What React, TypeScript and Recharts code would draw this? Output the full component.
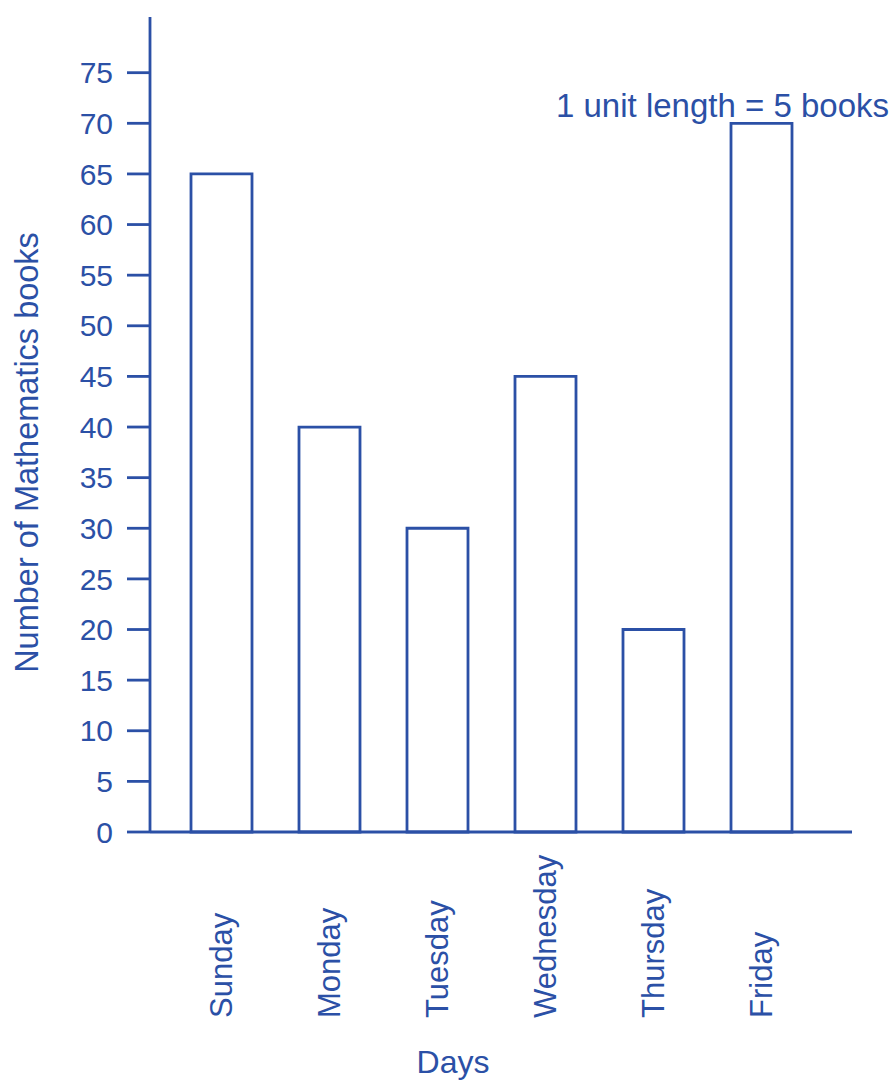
import React from "react";
import { BarChart, Bar, XAxis, YAxis, Label } from "recharts";

// days on the x axis and books sold (1 unit = 5 books)
const days = ["Sunday", "Monday", "Tuesday", "Wednesday", "Thursday", "Friday"];
const books = [65, 40, 30, 45, 20, 70];
const yTicks = [0, 5, 10, 15, 20, 25, 30, 35, 40, 45, 50, 55, 60, 65, 70, 75];

const data = days.map((d, i) => ({ day: d, books: books[i] }));

const BLUE = "#2b50a6";
const FONT = "'Liberation Sans', Arial, sans-serif";

// rotated day names, all starting at the same baseline below the axis
function DayTick(props: any) {
  const { x, y, payload } = props;
  const y0 = y + 178;
  return (
    <text
      x={x}
      y={y0}
      transform={`rotate(-90, ${x}, ${y0})`}
      textAnchor="start"
      dominantBaseline="central"
      fill={BLUE}
      fontSize={31}
      fontFamily={FONT}
    >
      {payload.value}
    </text>
  );
}

export default function App() {
  return (
    <div style={{ position: "absolute", left: 0, top: 0, width: 892, height: 1083, background: "#fff" }}>
      <BarChart
        width={892}
        height={1083}
        data={data}
        margin={{ top: 17, right: 40, bottom: 0, left: 0 }}
        barSize={61}
      >
        <XAxis
          dataKey="day"
          height={251}
          tickLine={false}
          axisLine={{ stroke: BLUE, strokeWidth: 2.8 }}
          padding={{ left: 17, right: 37 }}
          interval={0}
          tick={<DayTick />}
        >
          <Label
            content={(p: any) => {
              const vb = p.viewBox;
              return (
                <text
                  x={vb.x + vb.width / 2 - 48}
                  y={vb.y + vb.height - 10}
                  textAnchor="middle"
                  fill={BLUE}
                  fontSize={32}
                  fontFamily={FONT}
                >
                  Days
                </text>
              );
            }}
          />
        </XAxis>
        <YAxis
          width={150}
          domain={[0, 80.5]}
          ticks={yTicks}
          interval={0}
          tickSize={23}
          tickMargin={14}
          tickLine={{ stroke: BLUE, strokeWidth: 2.8 }}
          axisLine={{ stroke: BLUE, strokeWidth: 2.8 }}
          tick={{ fill: BLUE, fontSize: 30, fontFamily: FONT }}
        >
          <Label
            content={(p: any) => {
              const vb = p.viewBox;
              const cx = vb.x + 27;
              const cy = vb.y + vb.height / 2 + 28;
              return (
                <text
                  x={cx}
                  y={cy}
                  transform={`rotate(-90, ${cx}, ${cy})`}
                  textAnchor="middle"
                  dominantBaseline="central"
                  fill={BLUE}
                  fontSize={32.5}
                  fontFamily={FONT}
                >
                  Number of Mathematics books
                </text>
              );
            }}
          />
        </YAxis>
        <Bar
          dataKey="books"
          fill="#ffffff"
          stroke={BLUE}
          strokeWidth={2.8}
          isAnimationActive={false}
        />
      </BarChart>
      <div
        style={{
          position: "absolute",
          left: 556,
          top: 87,
          color: BLUE,
          fontSize: 33,
          fontFamily: FONT,
          whiteSpace: "nowrap",
          lineHeight: "38px",
        }}
      >
        1 unit length = 5 books
      </div>
    </div>
  );
}
